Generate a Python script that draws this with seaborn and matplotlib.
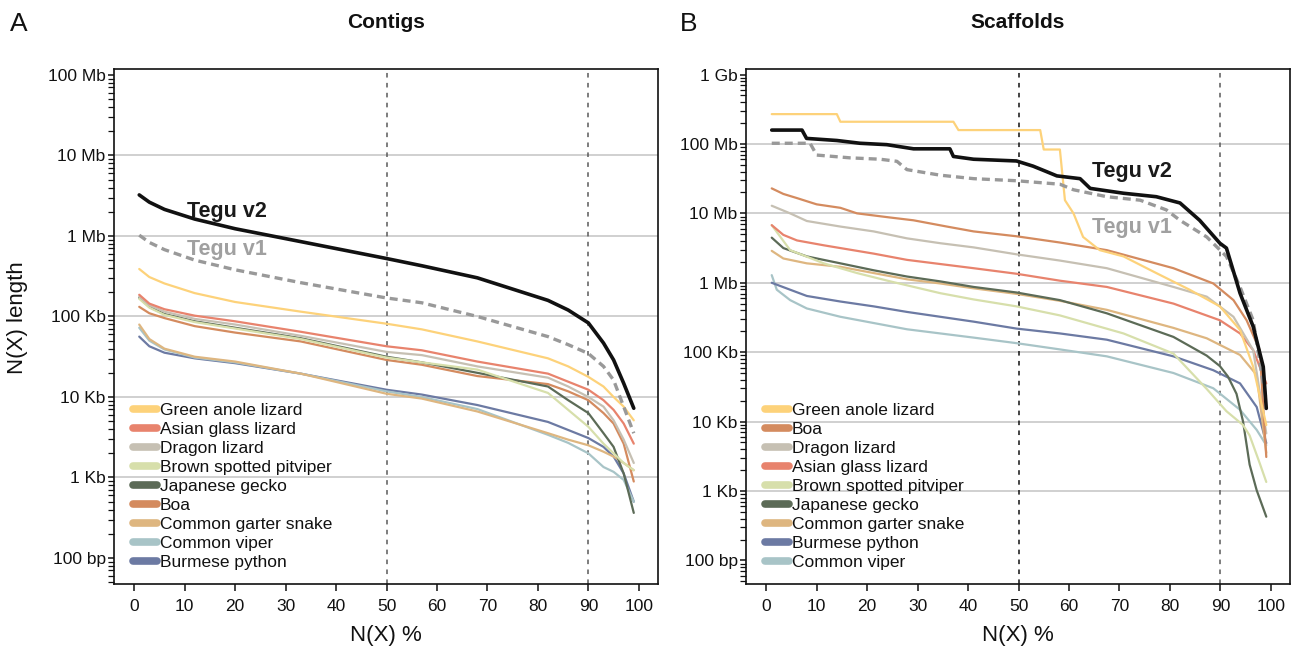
import numpy as np
import pandas as pd
import matplotlib
matplotlib.use("Agg")
import matplotlib.pyplot as plt
from matplotlib.lines import Line2D
from matplotlib.ticker import LogLocator, NullFormatter, FixedLocator
import seaborn as sns

# ---------------------------------------------------------------------------
# N(X) curves, stored as log10(length in bp)
# ---------------------------------------------------------------------------

# Contigs: every assembly sampled at the same N(X) positions
contig_x = [1, 3, 6, 12, 20, 33, 50, 57, 68, 82, 86, 90, 93, 95, 97, 99]

contig_tegu_v2 = [6.51, 6.42, 6.33, 6.21, 6.09, 5.93, 5.72, 5.63, 5.48, 5.20, 5.08, 4.92, 4.67, 4.46, 4.17, 3.86]
contig_tegu_v1 = [6.01, 5.92, 5.83, 5.70, 5.58, 5.42, 5.23, 5.17, 5.00, 4.75, 4.65, 4.54, 4.38, 4.21, 3.88, 3.55]

contig_anole = [5.59, 5.49, 5.41, 5.29, 5.18, 5.06, 4.91, 4.84, 4.69, 4.48, 4.38, 4.25, 4.13, 4.00, 3.88, 3.71]
contig_glass = [5.27, 5.16, 5.09, 5.01, 4.94, 4.81, 4.63, 4.58, 4.44, 4.29, 4.19, 4.09, 3.96, 3.84, 3.67, 3.42]
contig_dragon = [5.25, 5.14, 5.06, 4.97, 4.90, 4.76, 4.56, 4.52, 4.38, 4.24, 4.13, 4.00, 3.88, 3.71, 3.47, 3.18]
contig_pitviper = [5.22, 5.11, 5.02, 4.93, 4.85, 4.72, 4.49, 4.43, 4.34, 4.05, 3.84, 3.63, 3.42, 3.30, 3.18, 3.09]
contig_gecko = [5.23, 5.12, 5.03, 4.94, 4.86, 4.73, 4.50, 4.43, 4.30, 4.13, 3.96, 3.80, 3.55, 3.38, 3.05, 2.56]
contig_boa = [5.12, 5.04, 4.98, 4.88, 4.80, 4.69, 4.46, 4.40, 4.26, 4.16, 4.07, 3.96, 3.80, 3.67, 3.42, 2.95]
contig_garter = [4.90, 4.72, 4.60, 4.50, 4.44, 4.29, 4.04, 3.98, 3.82, 3.55, 3.47, 3.40, 3.32, 3.26, 3.18, 3.09]
contig_viper = [4.86, 4.70, 4.59, 4.49, 4.43, 4.29, 4.07, 4.00, 3.85, 3.53, 3.43, 3.30, 3.13, 3.07, 2.97, 2.70]
contig_python = [4.75, 4.63, 4.55, 4.48, 4.42, 4.29, 4.09, 4.03, 3.90, 3.69, 3.59, 3.49, 3.38, 3.26, 3.05, 2.70]

# Scaffolds: each assembly with its own N(X) positions
scaf_tegu_v2_x = [1.1, 7.1, 8.0, 14.0, 18.6, 23.9, 29.2, 36.4, 37.1, 41.1, 49.6, 52.9, 55.6, 57.6,
                  62.2, 64.2, 70.8, 77.3, 82.0, 85.9, 89.9, 91.2, 93.9, 96.5, 98.5, 99.1]
scaf_tegu_v2 = [8.20, 8.20, 8.08, 8.05, 8.01, 7.99, 7.93, 7.93, 7.82, 7.78, 7.755, 7.68, 7.60, 7.54,
                7.50, 7.36, 7.29, 7.24, 7.15, 6.90, 6.57, 6.50, 5.85, 5.37, 4.79, 4.19]

scaf_tegu_v1_x = [1.1, 8.7, 10.0, 16.6, 22.6, 25.9, 27.9, 34.5, 41.1, 49.6, 58.2, 60.9, 67.5, 74.1,
                  79.3, 82.0, 87.3, 91.2, 93.9, 96.5, 98.5, 99.1]
scaf_tegu_v1 = [8.01, 8.01, 7.84, 7.80, 7.78, 7.75, 7.63, 7.55, 7.50, 7.47, 7.42, 7.34, 7.24, 7.19,
                7.05, 6.90, 6.66, 6.38, 5.94, 5.46, 4.55, 4.30]

scaf_anole_x = [1.1, 14.0, 14.7, 37.1, 38.1, 54.3, 55.0, 58.2, 59.2, 60.9, 62.8, 66.1, 70.8, 77.3,
                83.9, 89.9, 93.9, 96.5, 99.1]
scaf_anole = [8.43, 8.43, 8.32, 8.32, 8.20, 8.20, 7.92, 7.92, 7.19, 7.00, 6.66, 6.47, 6.38, 6.14,
              5.90, 5.66, 5.32, 4.79, 3.95]

scaf_boa_x = [1.1, 3.4, 6.1, 10.0, 14.7, 18.0, 24.6, 29.2, 35.8, 41.1, 49.6, 58.2, 67.5, 80.7,
              88.6, 92.6, 95.2, 97.8, 99.1]
scaf_boa = [7.36, 7.28, 7.22, 7.13, 7.08, 7.00, 6.94, 6.90, 6.81, 6.74, 6.67, 6.58, 6.47, 6.21,
            5.99, 5.75, 5.46, 5.03, 3.49]

scaf_dragon_x = [1.1, 4.75, 8.05, 14.7, 21.3, 27.9, 34.5, 41.1, 49.6, 58.2, 67.5, 80.7, 87.3, 92.6, 96.5, 99.1]
scaf_dragon = [7.11, 7.00, 6.89, 6.81, 6.74, 6.64, 6.57, 6.51, 6.41, 6.32, 6.21, 5.94, 5.80, 5.51, 5.03, 3.83]

scaf_glass_x = [1.1, 3.4, 6.1, 11.4, 14.7, 21.3, 27.9, 34.5, 41.1, 49.6, 58.2, 67.5, 80.7, 89.9, 93.9, 96.5, 99.1]
scaf_glass = [6.83, 6.69, 6.61, 6.54, 6.50, 6.42, 6.33, 6.27, 6.21, 6.13, 6.03, 5.94, 5.70, 5.46, 5.27, 5.03, 4.55]

scaf_pitviper_x = [1.1, 4.75, 11.4, 18.0, 24.6, 34.5, 41.1, 49.6, 58.2, 70.8, 80.7, 87.3, 91.2, 94.5, 95.8, 97.8, 99.1]
scaf_pitviper = [6.83, 6.47, 6.28, 6.14, 6.02, 5.85, 5.76, 5.66, 5.53, 5.27, 4.98, 4.47, 4.15, 3.95, 3.80, 3.40, 3.13]

scaf_gecko_x = [1.1, 3.4, 8.05, 14.7, 21.3, 27.9, 34.5, 41.1, 49.6, 58.2, 67.5, 80.7, 87.3, 89.9,
                91.5, 93.2, 94.5, 95.8, 97.2, 99.1]
scaf_gecko = [6.65, 6.50, 6.38, 6.28, 6.18, 6.09, 6.02, 5.94, 5.86, 5.75, 5.56, 5.22, 4.95, 4.80,
              4.65, 4.40, 4.00, 3.38, 3.01, 2.63]

scaf_garter_x = [1.1, 3.4, 8.05, 14.7, 21.3, 27.9, 34.5, 41.1, 49.6, 58.2, 67.5, 80.7, 87.3, 93.9, 97.2, 99.1]
scaf_garter = [6.46, 6.35, 6.28, 6.23, 6.14, 6.05, 5.99, 5.92, 5.84, 5.74, 5.61, 5.35, 5.20, 4.96, 4.67, 3.55]

scaf_python_x = [1.1, 4.75, 8.05, 14.7, 21.3, 27.9, 34.5, 41.1, 49.6, 58.2, 67.5, 80.7, 88.6, 93.9, 97.2, 99.1]
scaf_python = [6.00, 5.90, 5.81, 5.73, 5.66, 5.58, 5.51, 5.44, 5.34, 5.27, 5.18, 4.94, 4.74, 4.55, 4.21, 3.69]

scaf_viper_x = [1.1, 2.1, 4.75, 8.05, 14.7, 21.3, 27.9, 34.5, 41.1, 49.6, 58.2, 67.5, 80.7, 88.6, 93.9, 97.2, 99.1]
scaf_viper = [6.11, 5.90, 5.75, 5.63, 5.51, 5.42, 5.33, 5.27, 5.21, 5.13, 5.04, 4.94, 4.70, 4.48, 4.17, 3.88, 3.66]

# ---------------------------------------------------------------------------
# Species names, colours and legend orders
# ---------------------------------------------------------------------------
species_colors = {
    "Green anole lizard": "#FDD27A",
    "Asian glass lizard": "#E8836D",
    "Dragon lizard": "#C6C0B3",
    "Brown spotted pitviper": "#D7DFAB",
    "Japanese gecko": "#5C6B57",
    "Boa": "#D48B5F",
    "Common garter snake": "#DEB680",
    "Common viper": "#A8C4C7",
    "Burmese python": "#6C7AA3",
}

contig_order = ["Green anole lizard", "Asian glass lizard", "Dragon lizard", "Brown spotted pitviper",
                "Japanese gecko", "Boa", "Common garter snake", "Common viper", "Burmese python"]
scaffold_order = ["Green anole lizard", "Boa", "Dragon lizard", "Asian glass lizard",
                  "Brown spotted pitviper", "Japanese gecko", "Common garter snake",
                  "Burmese python", "Common viper"]

contig_series = {
    "Green anole lizard": contig_anole,
    "Asian glass lizard": contig_glass,
    "Dragon lizard": contig_dragon,
    "Brown spotted pitviper": contig_pitviper,
    "Japanese gecko": contig_gecko,
    "Boa": contig_boa,
    "Common garter snake": contig_garter,
    "Common viper": contig_viper,
    "Burmese python": contig_python,
}
scaffold_series = {
    "Green anole lizard": (scaf_anole_x, scaf_anole),
    "Boa": (scaf_boa_x, scaf_boa),
    "Dragon lizard": (scaf_dragon_x, scaf_dragon),
    "Asian glass lizard": (scaf_glass_x, scaf_glass),
    "Brown spotted pitviper": (scaf_pitviper_x, scaf_pitviper),
    "Japanese gecko": (scaf_gecko_x, scaf_gecko),
    "Common garter snake": (scaf_garter_x, scaf_garter),
    "Burmese python": (scaf_python_x, scaf_python),
    "Common viper": (scaf_viper_x, scaf_viper),
}


def long_table(series):
    rows = []
    for name, (xs, logs) in series.items():
        for x, v in zip(xs, logs):
            rows.append({"NX": x, "length": 10 ** v, "species": name})
    return pd.DataFrame(rows)


contig_df = long_table({k: (contig_x, v) for k, v in contig_series.items()})
scaffold_df = long_table(scaffold_series)

tegu_contig_v2 = pd.DataFrame({"NX": contig_x, "length": np.power(10.0, contig_tegu_v2)})
tegu_contig_v1 = pd.DataFrame({"NX": contig_x, "length": np.power(10.0, contig_tegu_v1)})
tegu_scaf_v2 = pd.DataFrame({"NX": scaf_tegu_v2_x, "length": np.power(10.0, scaf_tegu_v2)})
tegu_scaf_v1 = pd.DataFrame({"NX": scaf_tegu_v1_x, "length": np.power(10.0, scaf_tegu_v1)})

# ---------------------------------------------------------------------------
# Figure
# ---------------------------------------------------------------------------
sns.set_theme(style="white")
plt.rcParams["font.family"] = ["Liberation Sans", "DejaVu Sans"]
plt.rcParams["text.color"] = "#111111"

W, H = 1301, 653
fig = plt.figure(figsize=(W / 100, H / 100), dpi=100)


def px_axes(x0, x1, y0, y1):
    return fig.add_axes([x0 / W, 1 - y1 / H, (x1 - x0) / W, (y1 - y0) / H])


ax_c = px_axes(114, 658, 69, 584)
ax_s = px_axes(746, 1290, 69, 584)

size_labels = {1e2: "100 bp", 1e3: "1 Kb", 1e4: "10 Kb", 1e5: "100 Kb",
               1e6: "1 Mb", 1e7: "10 Mb", 1e8: "100 Mb", 1e9: "1 Gb"}


def style_axes(ax, ylim, major, grid_at, dash50_color):
    ax.set_yscale("log")
    ax.set_xlim(-4, 103.8)
    ax.set_ylim(*ylim)
    ax.yaxis.set_major_locator(FixedLocator(major))
    ax.set_yticklabels([size_labels[m] for m in major])
    ax.yaxis.set_minor_locator(LogLocator(base=10, subs=np.arange(2, 10)))
    ax.yaxis.set_minor_formatter(NullFormatter())
    ax.set_xticks(np.arange(0, 101, 10))
    ax.tick_params(axis="x", which="major", direction="out", length=5, width=1.1,
                   labelsize=12.5, pad=6, colors="#111111", bottom=True)
    ax.tick_params(axis="y", which="major", direction="out", length=4, width=1.1,
                   labelsize=12.5, pad=2, colors="#111111", left=True)
    ax.tick_params(axis="y", which="minor", direction="out", length=4, width=0.9,
                   colors="#111111", left=True)
    for sp in ax.spines.values():
        sp.set_color("#111111")
        sp.set_linewidth(1.2)
        sp.set_visible(True)
    for g in grid_at:
        ax.axhline(g, color="#C4C4C4", lw=1.1, zorder=0.5)
    ax.axvline(50, color=dash50_color, lw=1.1, ls=(0, (3, 3.5)), zorder=0.6)
    ax.axvline(90, color="#5A5A5A", lw=1.1, ls=(0, (3, 3.5)), zorder=0.6)
    ax.set_xlabel("")
    ax.set_ylabel("")


style_axes(ax_c, (10 ** 1.677, 10 ** 8.074), [1e2, 1e3, 1e4, 1e5, 1e6, 1e7, 1e8],
           [1e3, 1e4, 1e5, 1e6, 1e7], "#5A5A5A")
style_axes(ax_s, (10 ** 1.66, 10 ** 9.08), [1e2, 1e3, 1e4, 1e5, 1e6, 1e7, 1e8, 1e9],
           [1e3, 1e4, 1e5, 1e6, 1e7, 1e8], "#111111")

# Species curves
for ax, df, order in [(ax_c, contig_df, contig_order), (ax_s, scaffold_df, scaffold_order)]:
    sns.lineplot(data=df, x="NX", y="length", hue="species", hue_order=order[::-1],
                 palette=species_colors, estimator=None, lw=1.6, legend=False, ax=ax, zorder=2)
    ax.set_xlabel("")
    ax.set_ylabel("")

# Tegu assemblies on top
for ax, v2, v1 in [(ax_c, tegu_contig_v2, tegu_contig_v1), (ax_s, tegu_scaf_v2, tegu_scaf_v1)]:
    sns.lineplot(data=v1, x="NX", y="length", color="#999999", lw=2.4, estimator=None,
                 ax=ax, zorder=3, linestyle=(0, (2.4, 1.5)))
    sns.lineplot(data=v2, x="NX", y="length", color="#111111", lw=2.6, estimator=None,
                 ax=ax, zorder=4)
    ax.set_xlabel("")
    ax.set_ylabel("")

# Tegu labels
ax_c.text(10.5, 10 ** 6.30, "Tegu v2", fontsize=15.5, fontweight="bold", color="#1A1A1A",
          va="center", ha="left")
ax_c.text(10.5, 10 ** 5.83, "Tegu v1", fontsize=15.5, fontweight="bold", color="#A0A0A0",
          va="center", ha="left")
ax_s.text(64.6, 10 ** 7.60, "Tegu v2", fontsize=15.5, fontweight="bold", color="#1A1A1A",
          va="center", ha="left")
ax_s.text(64.6, 10 ** 6.80, "Tegu v1", fontsize=15.5, fontweight="bold", color="#A0A0A0",
          va="center", ha="left")

# Legends
for ax, order in [(ax_c, contig_order), (ax_s, scaffold_order)]:
    handles = [Line2D([0], [0], color=species_colors[n], lw=5.5, solid_capstyle="round")
               for n in order]
    ax.legend(handles, order, loc="lower left", bbox_to_anchor=(0.035, 0.028),
              frameon=False, fontsize=12.5, handlelength=1.4, handletextpad=0.15,
              labelspacing=0.22, borderpad=0, borderaxespad=0)

# Titles, panel letters and axis labels
fig.text(386 / W, 1 - 22 / H, "Contigs", ha="center", va="center", fontsize=15, fontweight="bold")
fig.text(1018 / W, 1 - 22 / H, "Scaffolds", ha="center", va="center", fontsize=15, fontweight="bold")
fig.text(10 / W, 1 - 24 / H, "A", ha="left", va="center", fontsize=19)
fig.text(680 / W, 1 - 24 / H, "B", ha="left", va="center", fontsize=19)
fig.text(386 / W, 1 - 636 / H, "N(X) %", ha="center", va="center", fontsize=16)
fig.text(1018 / W, 1 - 636 / H, "N(X) %", ha="center", va="center", fontsize=16)
fig.text(18 / W, 1 - 318 / H, "N(X) length", ha="center", va="center", fontsize=16, rotation=90)

fig.savefig("out.png", dpi=100)
